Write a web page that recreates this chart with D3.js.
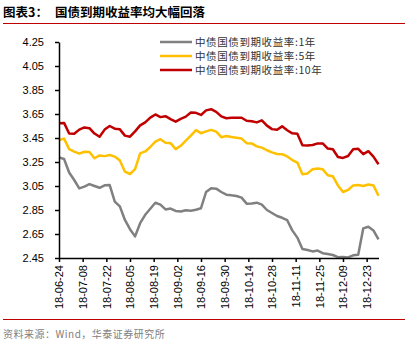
<!DOCTYPE html>
<html>
<head>
<meta charset="utf-8">
<script src="https://cdn.jsdelivr.net/npm/d3@7"></script>
<style>
  body { margin: 0; background: #fff; }
  svg { display: block; }
  .axis text { font-family: "Liberation Sans", Arial, sans-serif; font-size: 11px; fill: #000; }
  .axis path, .axis line { stroke: #000; stroke-width: 1.5; }
</style>
</head>
<body>
<div id="chart"></div>
<script>
// Series names and colours
const seriesNames = ["中债国债到期收益率:1年", "中债国债到期收益率:5年", "中债国债到期收益率:10年"];
const seriesColors = ["#808080", "#ffc000", "#c00000"];

// Sample dates: every 3 days from 2018-06-24, last point 2018-12-30
const startDate = new Date(2018, 5, 24);
const dayOffsets = d3.range(0, 187, 3).concat([189]);

// 1-year yield
const yield1y = [3.289, 3.275, 3.163, 3.10, 3.03, 3.045, 3.066, 3.05, 3.035, 3.056,
  3.058, 2.92, 2.88, 2.767, 2.69, 2.63, 2.74, 2.81, 2.86, 2.91,
  2.895, 2.855, 2.862, 2.842, 2.838, 2.848, 2.844, 2.852, 2.865, 3.0,
  3.031, 3.028, 3.0, 2.978, 2.972, 2.967, 2.953, 2.903, 2.905, 2.911,
  2.895, 2.85, 2.825, 2.80, 2.785, 2.765, 2.68, 2.62, 2.525, 2.517,
  2.505, 2.512, 2.49, 2.483, 2.475, 2.457, 2.459, 2.455, 2.472, 2.478,
  2.697, 2.71, 2.68, 2.606];

// 5-year yield
const yield5y = [3.433, 3.445, 3.357, 3.336, 3.32, 3.335, 3.333, 3.281, 3.305, 3.299,
  3.308, 3.295, 3.262, 3.169, 3.15, 3.19, 3.322, 3.338, 3.375, 3.42,
  3.44, 3.411, 3.407, 3.357, 3.385, 3.428, 3.47, 3.515, 3.49, 3.505,
  3.518, 3.503, 3.457, 3.467, 3.458, 3.452, 3.445, 3.407, 3.405, 3.38,
  3.37, 3.348, 3.33, 3.317, 3.315, 3.296, 3.266, 3.245, 3.148, 3.155,
  3.19, 3.195, 3.189, 3.14, 3.131, 3.055, 3.0, 3.017, 3.055, 3.058,
  3.05, 3.062, 3.055, 2.969];

// 10-year yield
const yield10y = [3.573, 3.576, 3.487, 3.485, 3.52, 3.538, 3.532, 3.487, 3.46, 3.52,
  3.55, 3.528, 3.522, 3.47, 3.461, 3.505, 3.555, 3.58, 3.62, 3.646,
  3.624, 3.632, 3.608, 3.586, 3.61, 3.628, 3.662, 3.66, 3.642, 3.68,
  3.69, 3.668, 3.63, 3.615, 3.618, 3.619, 3.619, 3.594, 3.59, 3.58,
  3.597, 3.553, 3.524, 3.518, 3.547, 3.515, 3.489, 3.485, 3.39, 3.388,
  3.392, 3.405, 3.405, 3.362, 3.356, 3.292, 3.284, 3.30, 3.357, 3.36,
  3.315, 3.34, 3.295, 3.231];

// Axis ticks
const yTicks = [2.45, 2.65, 2.85, 3.05, 3.25, 3.45, 3.65, 3.85, 4.05, 4.25];
const xTickDays = d3.range(0, 183, 14);

const width = 416, height = 353;
const plot = { left: 59, right: 378.5, top: 42, bottom: 258 };

const svg = d3.select("#chart").append("svg")
  .attr("width", width)
  .attr("height", height);

svg.append("rect").attr("width", width).attr("height", height).attr("fill", "#fff");

// Title
const title = svg.append("text")
  .attr("x", 3).attr("y", 17)
  .style("font-family", "'Noto Sans CJK SC', sans-serif")
  .style("font-size", "12.5px")
  .style("font-weight", "bold")
  .attr("fill", "#000");
title.append("tspan").text("图表3：");
title.append("tspan").attr("x", 55).text("国债到期收益率均大幅回落");

svg.append("line")
  .attr("x1", 3).attr("x2", 405).attr("y1", 23.5).attr("y2", 23.5)
  .attr("stroke", "#c00000").attr("stroke-width", 1);

// Scales
const dates = dayOffsets.map(d => d3.timeDay.offset(startDate, d));
const x = d3.scaleTime()
  .domain([startDate, d3.timeDay.offset(startDate, 189)])
  .range([plot.left, plot.right]);
const y = d3.scaleLinear()
  .domain([2.45, 4.25])
  .range([plot.bottom, plot.top]);

// Lines
const line = d3.line()
  .x((d, i) => x(dates[i]))
  .y(d => y(d));

[yield1y, yield5y, yield10y].forEach((vals, i) => {
  svg.append("path")
    .datum(vals)
    .attr("d", line)
    .attr("fill", "none")
    .attr("stroke", seriesColors[i])
    .attr("stroke-width", 2.5)
    .attr("stroke-linejoin", "round");
});

// Y axis
svg.append("g")
  .attr("class", "axis")
  .attr("transform", `translate(${plot.left},0)`)
  .call(d3.axisLeft(y).tickValues(yTicks).tickFormat(d3.format(".2f")).tickSize(4).tickSizeOuter(0).tickPadding(11));

// X axis
const xAxis = svg.append("g")
  .attr("class", "axis")
  .attr("transform", `translate(0,${plot.bottom})`)
  .call(d3.axisBottom(x)
    .tickValues(xTickDays.map(d => d3.timeDay.offset(startDate, d)))
    .tickFormat(d3.timeFormat("%y-%m-%d"))
    .tickSize(4).tickSizeOuter(0));

xAxis.selectAll("text")
  .attr("transform", "rotate(-90)")
  .attr("x", -7)
  .attr("y", 0)
  .attr("dy", "0.35em")
  .style("text-anchor", "end");

// Legend
const legend = svg.append("g").attr("transform", "translate(160,42)");
seriesNames.forEach((name, i) => {
  const g = legend.append("g").attr("transform", `translate(0,${i * 14})`);
  g.append("line")
    .attr("x1", 0).attr("x2", 32)
    .attr("stroke", seriesColors[i]).attr("stroke-width", 2.5);
  g.append("text")
    .attr("x", 35).attr("y", 4)
    .style("font-family", "'Noto Sans CJK SC', sans-serif")
    .style("font-size", "10.5px")
    .style("letter-spacing", "0.6px")
    .attr("fill", "#333")
    .text(name);
});

// Footer
svg.append("line")
  .attr("x1", 3).attr("x2", 405).attr("y1", 319.5).attr("y2", 319.5)
  .attr("stroke", "#c00000").attr("stroke-width", 1);

svg.append("text")
  .attr("x", 3).attr("y", 338)
  .style("font-family", "'Noto Sans CJK SC', sans-serif")
  .style("font-size", "10px")
  .style("letter-spacing", "0.5px")
  .attr("fill", "#808080")
  .text("资料来源：Wind，华泰证券研究所");
</script>
</body>
</html>
